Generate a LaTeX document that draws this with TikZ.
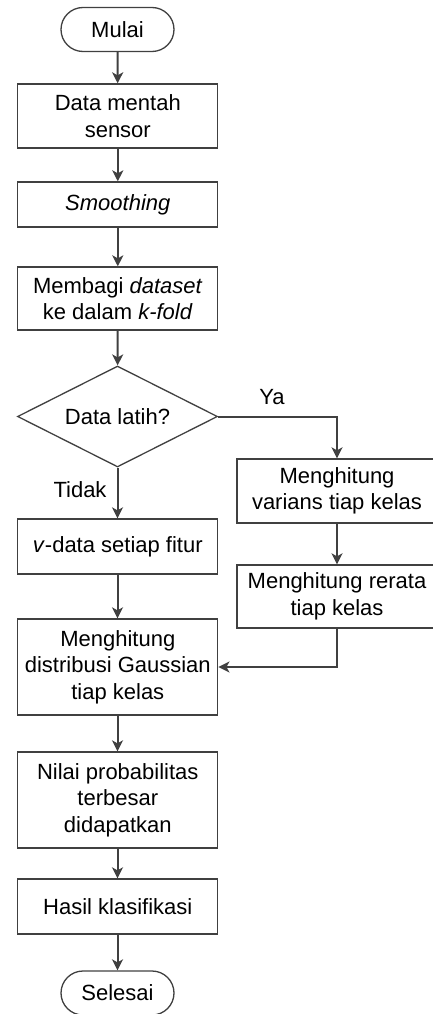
\documentclass[tikz,border=0pt]{standalone}
\usepackage{fontspec}
\setmainfont{Liberation Sans}
\usetikzlibrary{arrows.meta,shapes.geometric,shapes.misc}
\definecolor{ln}{HTML}{404040}
\tikzset{
  base/.style={draw=ln, line width=1.3pt, align=center, inner sep=0pt, font=\fontsize{22}{26.5}\selectfont},
  proc/.style={base, rectangle, minimum width=200pt},
  term/.style={base, rounded rectangle, minimum width=113pt, minimum height=44pt},
  dec/.style={base, diamond, minimum width=200pt, minimum height=101pt, aspect=2},
  arr/.style={draw=ln, line width=2pt, -{Stealth[length=11pt,width=11pt,inset=3pt]}},
  lbl/.style={font=\fontsize{22}{26.5}\selectfont, inner sep=0pt}
}
\begin{document}
\begin{tikzpicture}[x=1pt,y=-1pt]
\useasboundingbox (0,0) rectangle (433,1014);
\node[term] (mulai) at (117.5,29.5) {Mulai};
\node[proc, minimum height=64pt] (raw) at (117.8,116) {Data mentah\\sensor};
\node[proc, minimum height=45pt] (smooth) at (117.8,204.5) {\textit{Smoothing}};
\node[proc, minimum height=63pt] (fold) at (117.8,298.5) {Membagi \textit{dataset}\\ke dalam \textit{k-fold}};
\node[dec] (latih) at (117.5,416.5) {Data latih?};
\node[proc, minimum height=64pt] (var) at (337,491) {Menghitung\\varians tiap kelas};
\node[proc, minimum height=63pt] (mean) at (337,596.5) {Menghitung rerata\\tiap kelas};
\node[proc, minimum height=55pt] (vdata) at (117.8,546.5) {\textit{v}-data setiap fitur};
\node[proc, minimum height=96pt] (gauss) at (117.8,667) {Menghitung\\distribusi Gaussian\\tiap kelas};
\node[proc, minimum height=96pt] (prob) at (117.8,800) {Nilai probabilitas\\terbesar\\didapatkan};
\node[proc, minimum height=55pt] (hasil) at (117.8,906.5) {Hasil klasifikasi};
\node[term] (selesai) at (117.5,993) {Selesai};
\node[lbl] (ya) at (272,397) {Ya};
\node[lbl] (tidak) at (80,490) {Tidak};
\draw[arr] (mulai) -- (raw);
\draw[arr] (raw) -- (smooth);
\draw[arr] (smooth) -- (fold);
\draw[arr] (fold) -- (latih);
\draw[arr] (latih.east) -| (var.north);
\draw[arr] (var) -- (mean);
\draw[arr] (latih.south) -- (vdata.north -| latih.south);
\draw[arr] (vdata.south -| latih.south) -- (gauss.north -| latih.south);
\draw[arr] (mean.south) |- (gauss.east);
\draw[arr] (gauss.south -| latih.south) -- (prob.north -| latih.south);
\draw[arr] (prob.south -| latih.south) -- (hasil.north -| latih.south);
\draw[arr] (hasil.south -| latih.south) -- (selesai.north);
\end{tikzpicture}
\end{document}
